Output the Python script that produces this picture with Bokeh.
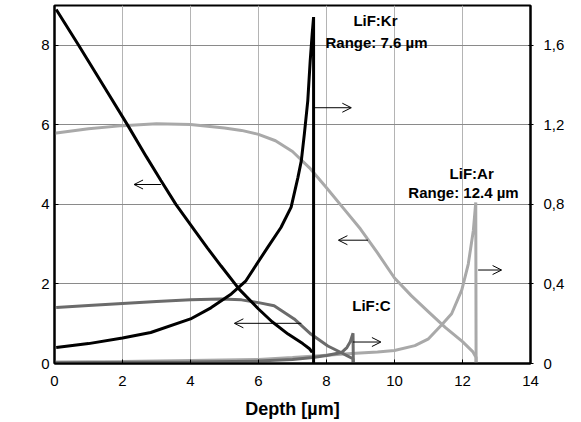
from bokeh.plotting import figure
from bokeh.models import (Range1d, LinearAxis, FixedTicker, Arrow, OpenHead,
                          ColumnDataSource)
from bokeh.embed import file_html
from bokeh.resources import INLINE
from bokeh.core.properties import value

# ---- data ----
# LiF:Kr electronic stopping (left axis)
kr_se_x = [0.05, 0.71, 1.5, 2.16, 2.7, 3.13, 3.57, 4.11, 4.5, 4.9, 5.43, 6.0, 6.4, 6.87, 7.3, 7.5, 7.58]
kr_se_y = [8.9, 8.0, 6.9, 5.98, 5.2, 4.6, 4.0, 3.36, 2.9, 2.45, 1.87, 1.37, 1.05, 0.74, 0.5, 0.37, 0.28]
# LiF:Kr energy-loss profile (right axis)
kr_el_x = [0.05, 1.0, 2.0, 2.83, 4.0, 4.6, 5.2, 5.63, 6.27, 6.66, 6.96, 7.16, 7.26, 7.35, 7.45, 7.52, 7.58, 7.62, 7.62]
kr_el_y = [0.08, 0.10, 0.128, 0.156, 0.224, 0.28, 0.35, 0.416, 0.584, 0.684, 0.786, 0.936, 1.02, 1.156, 1.322, 1.52, 1.66, 1.742, 0.0]

# LiF:Ar electronic stopping (left axis)
ar_se_x = [0.0, 1.0, 2.0, 3.0, 4.0, 5.0, 5.5, 6.0, 6.5, 7.0, 7.5, 8.0, 8.5, 9.0, 9.5, 10.0, 10.5, 11.0, 11.5, 12.0, 12.3, 12.4, 12.4]
ar_se_y = [5.79, 5.9, 5.98, 6.03, 6.01, 5.92, 5.86, 5.76, 5.6, 5.33, 4.92, 4.42, 3.9, 3.38, 2.78, 2.15, 1.7, 1.3, 0.9, 0.55, 0.3, 0.15, 0.0]
# LiF:Ar energy-loss profile (right axis)
ar_el_x = [0.0, 2.0, 4.0, 6.0, 7.0, 8.0, 8.73, 9.5, 10.0, 10.6, 11.0, 11.39, 11.68, 11.98, 12.17, 12.32, 12.39, 12.4]
ar_el_y = [0.008, 0.01, 0.015, 0.02, 0.03, 0.042, 0.05, 0.058, 0.065, 0.09, 0.124, 0.195, 0.25, 0.37, 0.5, 0.67, 0.81, 0.0]

# LiF:C electronic stopping (left axis)
c_se_x = [0.05, 1.0, 2.0, 3.0, 4.0, 4.9, 5.5, 6.0, 6.46, 7.05, 7.54, 8.04, 8.44, 8.6, 8.78, 8.78]
c_se_y = [1.41, 1.46, 1.51, 1.56, 1.6, 1.62, 1.6, 1.53, 1.45, 1.12, 0.74, 0.44, 0.27, 0.2, 0.12, 0.0]
# LiF:C energy-loss profile (right axis)
c_el_x = [0.0, 4.0, 6.0, 7.0, 7.6, 8.0, 8.44, 8.6, 8.7, 8.78, 8.79]
c_el_y = [0.004, 0.008, 0.012, 0.02, 0.03, 0.04, 0.055, 0.08, 0.11, 0.152, 0.0]

# axis ticks and labels
x_ticks = [0, 2, 4, 6, 8, 10, 12, 14]
left_ticks = [0, 2, 4, 6, 8]
right_ticks = [0, 0.4, 0.8, 1.2, 1.6]
right_labels = ["0", "0,4", "0,8", "1,2", "1,6"]

# annotations
label_text = ["LiF:Kr", "Range: 7.6 µm", "LiF:Ar", "Range: 12.4 µm", "LiF:C"]
label_x = [9.44, 9.47, 12.27, 12.03, 9.32]
label_y = [8.63, 8.07, 4.78, 4.30, 1.45]

arrow_x0 = [3.13, 7.64, 9.22, 12.46, 7.26, 8.78]
arrow_x1 = [2.34, 8.73, 8.35, 13.15, 5.29, 9.6]
arrow_y = [4.5, 6.43, 3.1, 2.35, 1.01, 0.54]

FONT = "Liberation Sans"

p = figure(frame_width=476, frame_height=358,
           x_range=Range1d(0, 14), y_range=Range1d(0, 9),
           output_backend="svg", toolbar_location=None,
           min_border_left=54, min_border_right=45,
           min_border_top=5, min_border_bottom=52)
p.extra_y_ranges = {"right": Range1d(0, 1.8)}
p.background_fill_color = "white"
p.border_fill_color = "white"
p.outline_line_color = "black"
p.outline_line_width = 2

# grid
p.xgrid.ticker = FixedTicker(ticks=x_ticks[1:-1])
p.xgrid.grid_line_color = "#b4b4b4"
p.xgrid.grid_line_width = 1
p.ygrid.ticker = FixedTicker(ticks=left_ticks[1:])
p.ygrid.grid_line_color = "#8a8a8a"
p.ygrid.grid_line_width = 1

# x axis
xa = p.xaxis[0]
xa.ticker = FixedTicker(ticks=x_ticks)
xa.axis_label = "Depth [µm]"
xa.axis_label_text_font = FONT
xa.axis_label_text_font_style = "bold"
xa.axis_label_text_font_size = "18px"
xa.axis_label_text_color = "black"
xa.axis_label_standoff = 10
xa.major_label_text_font = FONT
xa.major_label_text_font_size = "15px"
xa.major_label_text_color = "black"
xa.major_label_standoff = 12
xa.major_tick_in = 4
xa.major_tick_out = 0
xa.minor_tick_line_color = None
xa.axis_line_width = 2
xa.axis_line_color = "black"
xa.major_tick_line_color = "black"

# left axis
ya = p.yaxis[0]
ya.ticker = FixedTicker(ticks=left_ticks)
ya.major_label_text_font = FONT
ya.major_label_text_font_size = "15px"
ya.major_label_text_color = "black"
ya.major_label_standoff = 5
ya.major_tick_in = 4
ya.major_tick_out = 0
ya.minor_tick_line_color = None
ya.axis_line_width = 2
ya.axis_line_color = "black"

# right axis
ra = LinearAxis(y_range_name="right", ticker=FixedTicker(ticks=right_ticks))
ra.major_label_overrides = {t: s for t, s in zip(right_ticks, right_labels)}
ra.major_label_text_font = FONT
ra.major_label_text_font_size = "15px"
ra.major_label_text_color = "black"
ra.major_label_standoff = 10
ra.major_tick_in = 2
ra.major_tick_out = 3
ra.minor_tick_line_color = None
ra.axis_line_width = 2
ra.axis_line_color = "black"
p.add_layout(ra, "right")

LIGHT = "#a9a9a9"
DARK = "#6b6b6b"

# curves
p.line(ar_el_x, ar_el_y, y_range_name="right", line_color=LIGHT, line_width=3)
p.line(ar_se_x, ar_se_y, line_color=LIGHT, line_width=3)
p.line(c_el_x, c_el_y, y_range_name="right", line_color=DARK, line_width=3)
p.line(c_se_x, c_se_y, line_color=DARK, line_width=3)
p.line(kr_se_x, kr_se_y, line_color="black", line_width=3)
p.line(kr_el_x, kr_el_y, y_range_name="right", line_color="black", line_width=3)

# arrows
for x0, x1, yy in zip(arrow_x0, arrow_x1, arrow_y):
    p.add_layout(Arrow(end=OpenHead(size=9, line_width=1, line_color="black"),
                       x_start=x0, y_start=yy, x_end=x1, y_end=yy,
                       line_width=1, line_color="black"))

# labels
src = ColumnDataSource(dict(x=label_x, y=label_y, t=label_text))
p.text(x="x", y="y", text="t", source=src, text_font=value(FONT),
       text_font_style="bold", text_font_size="15px", text_color="black",
       text_align="center", text_baseline="middle")

open("out.html", "w").write(file_html(p, INLINE))
